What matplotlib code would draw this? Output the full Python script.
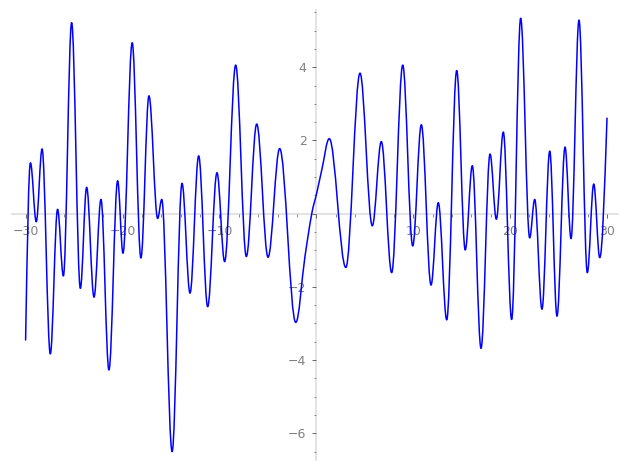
import matplotlib
matplotlib.use("Agg")
import matplotlib.pyplot as plt
from matplotlib.path import Path
from matplotlib.patches import PathPatch
from matplotlib.ticker import MultipleLocator, FuncFormatter

# Traced points of the curve (local extrema, end points and a few points on the long rise near 0)
x_points = [-30.0, -29.5, -28.9, -28.3, -27.45, -26.7, -26.1, -25.25, -24.35, -23.7,
            -22.94, -22.22, -21.4, -20.5, -19.95, -19.0, -18.1, -17.27, -16.37, -15.95,
            -14.88, -13.86, -13.03, -12.14, -11.21, -10.25, -9.46, -8.32, -7.22, -6.15,
            -4.98, -3.78, -2.12, -1.17, -0.47, 0.04, 0.56, 1.34, 3.05, 4.51,
            5.78, 6.71, 7.78, 8.92, 9.95, 10.84, 11.84, 12.59, 13.46, 14.49,
            15.37, 16.1, 17.0, 17.93, 18.58, 19.3, 20.16, 21.09, 22.02, 22.54,
            23.29, 24.09, 24.84, 25.67, 26.29, 27.11, 27.97, 28.63, 29.25, 30.0]
y_points = [-3.45, 1.39, -0.22, 1.77, -3.83, 0.12, -1.70, 5.22, -2.04, 0.72,
            -2.28, 0.39, -4.27, 0.90, -1.08, 4.67, -1.21, 3.22, -0.13, 0.39,
            -6.50, 0.83, -2.17, 1.58, -2.54, 1.12, -1.31, 4.06, -1.17, 2.45,
            -1.19, 1.78, -2.97, -1.17, 0.00, 0.56, 1.19, 2.05, -1.47, 3.84,
            -0.33, 1.97, -1.61, 4.06, -0.88, 2.43, -1.95, 0.30, -2.90, 3.91,
            -0.99, 1.31, -3.68, 1.63, -0.15, 2.23, -2.89, 5.34, -0.66, 0.39,
            -2.61, 1.71, -2.80, 1.82, -0.68, 5.29, -1.61, 0.81, -1.20, 2.61]

x_major = [-30, -20, -10, 0, 10, 20, 30]
y_major = [-6, -4, -2, 0, 2, 4]

fig = plt.figure(figsize=(6.27, 4.70), dpi=100)
W, H = 627.0, 470.0
left_px, right_px, top_px, bot_px = 12.0, 618.0, 10.0, 460.0
ax = fig.add_axes([left_px / W, 1 - bot_px / H, (right_px - left_px) / W, (bot_px - top_px) / H])

# axis limits from the pixel mapping of the reference
x0_px, sx = 316.3, 9.69
y0_px, sy = 213.7, 36.6
ax.set_xlim((left_px - x0_px) / sx, (right_px - x0_px) / sx)
ax.set_ylim((y0_px - bot_px) / sy, (y0_px - top_px) / sy)

# smooth curve through the traced points, rendered as cubic Bezier path
n = len(x_points)
slopes = []
for i in range(n):
    if i == 0:
        slopes.append(1.5 * (y_points[1] - y_points[0]) / (x_points[1] - x_points[0]))
    elif i == n - 1:
        slopes.append(1.5 * (y_points[-1] - y_points[-2]) / (x_points[-1] - x_points[-2]))
    else:
        d1 = y_points[i] - y_points[i - 1]
        d2 = y_points[i + 1] - y_points[i]
        if d1 * d2 <= 0:
            slopes.append(0.0)
        else:
            slopes.append((y_points[i + 1] - y_points[i - 1]) / (x_points[i + 1] - x_points[i - 1]))

verts = [(x_points[0], y_points[0])]
codes = [Path.MOVETO]
k = 0.36
for i in range(n - 1):
    dx = x_points[i + 1] - x_points[i]
    verts.append((x_points[i] + k * dx, y_points[i] + slopes[i] * k * dx))
    verts.append((x_points[i + 1] - k * dx, y_points[i + 1] - slopes[i + 1] * k * dx))
    verts.append((x_points[i + 1], y_points[i + 1]))
    codes += [Path.CURVE4] * 3
patch = PathPatch(Path(verts, codes), facecolor="none", edgecolor="#0000ff",
                  linewidth=1.1, zorder=3, capstyle="round", joinstyle="round")
ax.add_patch(patch)

# Sage-like axes through the origin
for s in ["top", "right"]:
    ax.spines[s].set_visible(False)
for s in ["left", "bottom"]:
    ax.spines[s].set_position(("data", 0))
    ax.spines[s].set_color("#e3e3e3")
    ax.spines[s].set_linewidth(1.4)
    ax.spines[s].set_zorder(1)
ax.set_facecolor("none")

ax.xaxis.set_major_locator(plt.FixedLocator(x_major))
ax.yaxis.set_major_locator(plt.FixedLocator(y_major))
ax.xaxis.set_minor_locator(MultipleLocator(2))
ax.yaxis.set_minor_locator(MultipleLocator(0.5))
fmt = FuncFormatter(lambda v, p: "" if abs(v) < 1e-9 else "%d" % v if v >= 0 else "\u2212%d" % abs(v))
ax.xaxis.set_major_formatter(fmt)
ax.yaxis.set_major_formatter(fmt)

ax.tick_params(which="major", direction="out", length=3.0, width=0.7,
               color="#666666", labelcolor="#808080", labelsize=9)
ax.tick_params(which="minor", direction="out", length=1.8, width=0.6, color="#777777")
ax.tick_params(axis="x", which="major", pad=5)
ax.tick_params(axis="y", which="major", pad=4)

fig.savefig("out.png", dpi=100)
